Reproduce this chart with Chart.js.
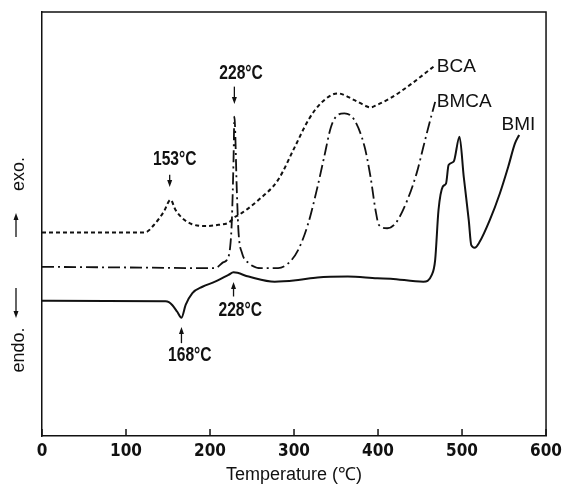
<!DOCTYPE html>
<html>
<head>
<meta charset="utf-8">
<script src="https://cdn.jsdelivr.net/npm/chart.js@4/dist/chart.umd.min.js"></script>
<style>
  html, body { margin: 0; padding: 0; background: #fff; }
</style>
</head>
<body>
<canvas id="dscChart" width="567" height="484"></canvas>
<script>
// DSC traces, temperature in °C, heat flow in arbitrary units (exo up)
const bcaTemp = [0, 60, 119, 124, 135, 145, 153, 159, 167, 178, 195, 210, 222, 230, 234, 258, 281, 301, 317, 332, 352, 372, 387, 391, 399, 415, 438, 466];
const bcaFlow = [48.0, 48.0, 48.0, 48.1, 50.2, 52.9, 55.7, 53.3, 51.4, 50.0, 49.5, 49.8, 50.3, 51.7, 52.1, 55.7, 60.4, 68.2, 74.5, 78.5, 80.8, 79.2, 77.7, 77.5, 78.1, 79.7, 82.8, 87.1];

const bmcaTemp = [0, 128, 187, 206, 216, 220, 224, 226, 228, 229, 232, 234, 238, 246, 261, 281, 293, 305, 317, 328, 336, 344, 352, 360, 372, 384, 391, 397, 401, 411, 421, 435, 446, 454, 460, 468];
const bmcaFlow = [39.9, 39.7, 39.6, 39.6, 41.0, 41.5, 44.6, 50.9, 65.1, 75.3, 57.3, 47.9, 43.2, 40.8, 39.6, 39.6, 40.7, 43.9, 50.2, 58.8, 65.9, 72.9, 75.7, 76.1, 74.5, 68.2, 61.2, 53.3, 49.8, 49.0, 50.2, 55.7, 62.0, 68.2, 72.9, 78.8];

const bmiTemp = [0, 147, 151, 155, 161, 166, 171, 179, 191, 206, 222, 228, 246, 277, 305, 328, 364, 399, 415, 454, 464, 468, 472, 477, 481, 484, 490, 497, 502, 508, 511, 515, 521, 533, 545, 555, 563, 568];
const bmiFlow = [31.9, 31.8, 31.6, 30.9, 29.3, 27.9, 30.9, 33.7, 35.2, 36.4, 38.0, 38.6, 37.6, 36.4, 36.8, 37.4, 37.6, 37.2, 37.1, 36.4, 38.0, 41.5, 53.3, 58.8, 59.6, 63.9, 64.7, 70.6, 61.2, 50.9, 45.0, 44.4, 45.8, 50.9, 57.2, 63.5, 69.0, 71.0];

const tempTicks = [0, 100, 200, 300, 400, 500, 600];

// peak annotations: text, text anchor (T, flow), arrow T, arrow from/to flow
const peakText = ["153°C", "228°C", "228°C", "168°C"];
const peakTextAt = [[158, 65.3], [237, 85.5], [236, 29.7], [176, 18.9]];
const peakArrow = [[152, 61.6, 58.7], [229, 82.4, 78.3], [228, 32.9, 36.3], [166, 21.9, 25.7]];

const seriesNames = ["BCA", "BMCA", "BMI"];
const seriesNameAt = [[470, 87.1], [470, 78.8], [547, 73.3]];

const ink = "#111";
const condensed = '"DejaVu Sans Condensed", "Liberation Sans Narrow", sans-serif';
const plain = '"Liberation Sans", Arial, sans-serif';

const pts = (xs, ys) => xs.map((x, i) => ({ x: x, y: ys[i] }));

function arrow(ctx, x, y1, y2) {
  const d = y2 > y1 ? 1 : -1;
  ctx.beginPath();
  ctx.moveTo(x, y1);
  ctx.lineTo(x, y2 - d * 3);
  ctx.stroke();
  ctx.beginPath();
  ctx.moveTo(x, y2);
  ctx.lineTo(x - 2.5, y2 - d * 7);
  ctx.lineTo(x + 2.5, y2 - d * 7);
  ctx.closePath();
  ctx.fill();
}

// squeezed text, to look like the narrow face of the original figure
function narrowText(ctx, txt, x, y) {
  ctx.save();
  ctx.translate(x, y);
  ctx.scale(0.78, 1);
  ctx.fillText(txt, 0, 0);
  ctx.restore();
}

const decorations = {
  id: "decorations",
  afterDatasetsDraw(chart) {
    const { ctx, chartArea: a, scales: { x, y } } = chart;
    ctx.save();
    ctx.strokeStyle = ink;
    ctx.fillStyle = ink;

    // top and right frame
    ctx.lineWidth = 1.5;
    ctx.beginPath();
    ctx.moveTo(a.left, a.top);
    ctx.lineTo(a.right, a.top);
    ctx.lineTo(a.right, a.bottom);
    ctx.stroke();

    // inward tick marks
    tempTicks.forEach(t => {
      const px = x.getPixelForValue(t);
      ctx.beginPath();
      ctx.moveTo(px, a.bottom);
      ctx.lineTo(px, a.bottom - 7);
      ctx.stroke();
    });

    // peak labels with arrows
    ctx.lineWidth = 1.3;
    ctx.font = "bold 20px " + plain;
    ctx.textAlign = "center";
    ctx.textBaseline = "middle";
    peakText.forEach((txt, i) => {
      narrowText(ctx, txt, x.getPixelForValue(peakTextAt[i][0]), y.getPixelForValue(peakTextAt[i][1]));
      const [t, v1, v2] = peakArrow[i];
      arrow(ctx, x.getPixelForValue(t), y.getPixelForValue(v1), y.getPixelForValue(v2));
    });

    // series names
    ctx.font = "19px " + plain;
    ctx.textAlign = "left";
    seriesNames.forEach((n, i) => {
      ctx.fillText(n, x.getPixelForValue(seriesNameAt[i][0]), y.getPixelForValue(seriesNameAt[i][1]));
    });

    // vertical axis caption: endo. <-   -> exo.
    ctx.font = "18px " + plain;
    ctx.save();
    ctx.translate(19, 0);
    ctx.rotate(-Math.PI / 2);
    ctx.textAlign = "center";
    ctx.fillText("exo.", -174, 0);
    ctx.fillText("endo.", -350, 0);
    ctx.restore();
    ctx.lineWidth = 1.3;
    arrow(ctx, 16, 237, 213);
    arrow(ctx, 16, 288, 318);

    ctx.restore();
  }
};

new Chart(document.getElementById("dscChart").getContext("2d"), {
  type: "line",
  data: {
    datasets: [
      {
        label: "BCA",
        data: pts(bcaTemp, bcaFlow),
        borderColor: ink,
        borderWidth: 2,
        borderDash: [4, 3]
      },
      {
        label: "BMCA",
        data: pts(bmcaTemp, bmcaFlow),
        borderColor: ink,
        borderWidth: 1.8,
        borderDash: [12, 4, 2, 4]
      },
      {
        label: "BMI",
        data: pts(bmiTemp, bmiFlow),
        borderColor: ink,
        borderWidth: 2
      }
    ]
  },
  options: {
    responsive: false,
    animation: false,
    layout: { padding: { top: 12, right: 16, left: 0, bottom: 0 } },
    elements: {
      point: { radius: 0 },
      line: { cubicInterpolationMode: "monotone", fill: false }
    },
    plugins: {
      legend: { display: false },
      tooltip: { enabled: false }
    },
    scales: {
      x: {
        type: "linear",
        min: 0,
        max: 600,
        afterFit: s => { s.height = 48; },
        afterBuildTicks: s => { s.ticks = tempTicks.map(v => ({ value: v })); },
        ticks: {
          color: ink,
          padding: 5,
          maxRotation: 0,
          font: { family: condensed, size: 17, weight: "bold" }
        },
        grid: { display: false, drawTicks: false },
        border: { color: ink, width: 1.5 },
        title: {
          display: true,
          text: "Temperature (℃)",
          color: ink,
          padding: { top: 0, bottom: 2 },
          font: { family: plain, size: 18, lineHeight: 0.8 }
        }
      },
      y: {
        min: 0,
        max: 100,
        afterFit: s => { s.width = 42; },
        ticks: { display: false },
        grid: { display: false, drawTicks: false },
        border: { color: ink, width: 1.5 }
      }
    }
  },
  plugins: [decorations]
});
</script>
</body>
</html>
